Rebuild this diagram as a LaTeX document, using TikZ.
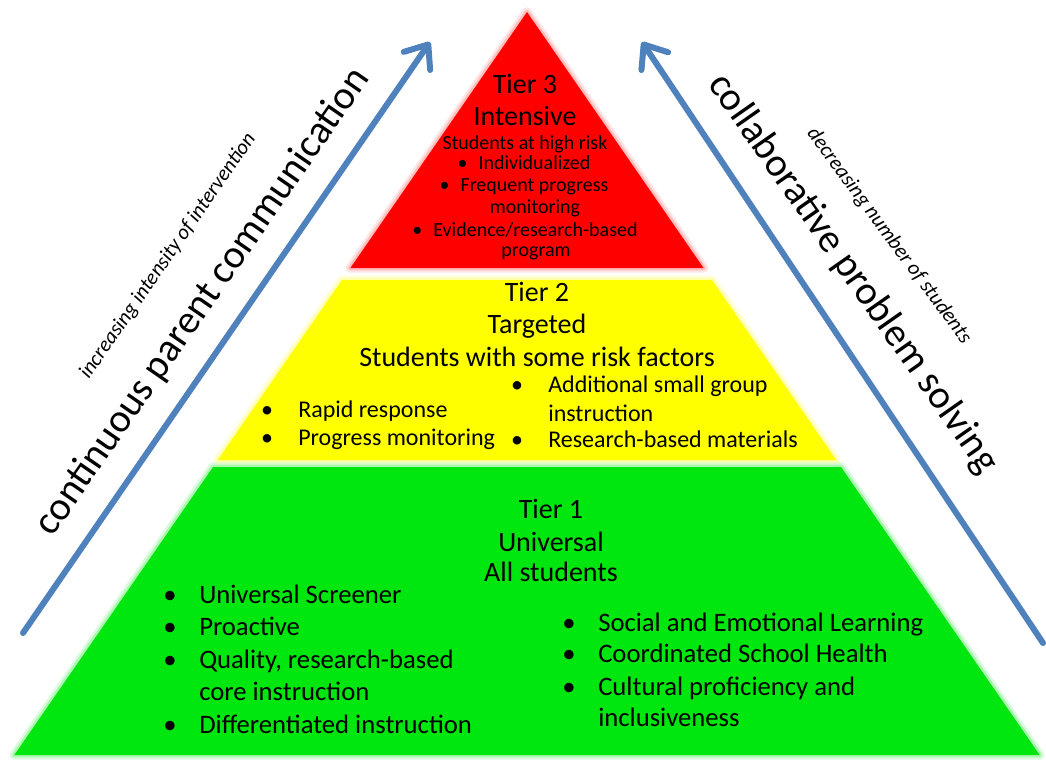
\documentclass[tikz,border=0pt]{standalone}
\usepackage{fontspec}
\setmainfont{Carlito}
\usetikzlibrary{arrows.meta}
\definecolor{arrowblue}{RGB}{79,129,189}
\definecolor{tgreen}{RGB}{0,230,15}
\definecolor{tred}{RGB}{255,0,0}
\definecolor{tyellow}{RGB}{255,255,0}
\begin{document}
\begin{tikzpicture}[x=0.75pt,y=-0.75pt,
  head/.style={font=\fontsize{21}{24}\selectfont, anchor=base, inner sep=0pt},
  tthree/.style={font=\fontsize{15}{18}\selectfont, anchor=base, inner sep=0pt},
  ttwo/.style={font=\fontsize{18}{21}\selectfont, anchor=base west, inner sep=0pt},
  tone/.style={font=\fontsize{20}{24}\selectfont, anchor=base west, inner sep=0pt},
  bul/.style={anchor=base, inner sep=0pt},
  biglabel/.style={font=\fontsize{30}{34}\selectfont, inner sep=0pt},
  smalllabel/.style={font=\fontsize{15.75}{18}\selectfont\itshape, inner sep=0pt},
  bluearrow/.style={draw=arrowblue, line width=4.5pt, line cap=round,
    -{Straight Barb[length=15pt,width=24pt,round]}},
  glowA/.style={line width=7pt, line join=round, opacity=0.3},
  glowB/.style={line width=3.5pt, line join=round, opacity=0.6}
]
\useasboundingbox (0,0) rectangle (1046,761);
\fill[white] (0,0) rectangle (1046,761);

% glows
\foreach \g in {glowA,glowB}{
\draw[\g, draw=tred!35] (527,12) -- (703.6,268) -- (350.4,268) -- cycle;
\draw[\g, draw=tyellow!45] (342.1,280) -- (711.9,280) -- (836.1,460) -- (217.9,460) -- cycle;
\draw[\g, draw=tgreen!45] (213.05,467) -- (840.95,467) -- (1039.7,755) -- (14.3,755) -- cycle;
}

% tiers
\fill[tred] (527,12) -- (703.6,268) -- (350.4,268) -- cycle;
\fill[tyellow] (342.1,280) -- (711.9,280) -- (836.1,460) -- (217.9,460) -- cycle;
\fill[tgreen] (213.05,467) -- (840.95,467) -- (1039.7,755) -- (14.3,755) -- cycle;

% arrows
\coordinate (la-tail) at (23,633);
\coordinate (la-head) at (430,42);
\coordinate (ra-tail) at (1043,643);
\coordinate (ra-head) at (642,42);
\draw[bluearrow] (la-tail) -- (la-head);
\draw[bluearrow] (ra-tail) -- (ra-head);

\node[biglabel, rotate=55.3] (lblL) at (203,302) {continuous parent communication};
\node[smalllabel, rotate=55.3] (lblLs) at (168,256) {increasing intensity of intervention};
\node[biglabel, rotate=-55] (lblR) at (853,274) {collaborative problem solving};
\node[smalllabel, rotate=-53.5] (lblRs) at (889,236) {decreasing number of students};

% Tier 3
\node[head] (t3h1) at (525,93.5) {Tier 3};
\node[head] (t3h2) at (525,125.5) {Intensive};
\foreach \x/\y/\t [count=\i] in {525/149/{Students at high risk},
  524/169/{\textbullet\hspace{0.55em}Individualized},
  524/191/{\textbullet\hspace{0.55em}Frequent progress},
  535/213/{monitoring},
  525/236/{\textbullet\hspace{0.55em}Evidence/research-based},
  536/256/{program}}
  \node[tthree] (t3-\i) at (\x,\y) {\t};

% Tier 2
\node[head] (t2h1) at (537,301.5) {Tier 2};
\node[head] (t2h2) at (537,333.5) {Targeted};
\node[head] (t2h3) at (537,366.5) {Students with some risk factors};
\foreach \x/\y/\t/\b [count=\i] in {298/417/{Rapid response}/1,
  298/445/{Progress monitoring}/1,
  548/392/{Additional small group}/1,
  548/421/{instruction}/0,
  548/447/{Research-based materials}/1}
{
  \node[ttwo] (t2-\i) at (\x,\y) {\t};
  \ifnum\b=1 \node[ttwo, bul] (t2b-\i) at ([xshift=-23.25pt]t2-\i.base west) {\textbullet}; \fi
}

% Tier 1
\node[head] (t1h1) at (551,518.5) {Tier 1};
\node[head] (t1h2) at (551,551.5) {Universal};
\node[head] (t1h3) at (551,581.5) {All students};
\foreach \x/\y/\t/\b [count=\i] in {199/603/{Universal Screener}/1,
  199/635/{Proactive}/1,
  199/668/{Quality, research-based}/1,
  199/700/{core instruction}/0,
  199/733/{Differentiated instruction}/1,
  598/631/{Social and Emotional Learning}/1,
  598/662/{Coordinated School Health}/1,
  598/695/{Cultural proficiency and}/1,
  598/726/{inclusiveness}/0}
{
  \node[tone] (t1-\i) at (\x,\y) {\t};
  \ifnum\b=1 \node[tone, bul] (t1b-\i) at ([xshift=-21.75pt]t1-\i.base west) {\textbullet}; \fi
}
\end{tikzpicture}
\end{document}
